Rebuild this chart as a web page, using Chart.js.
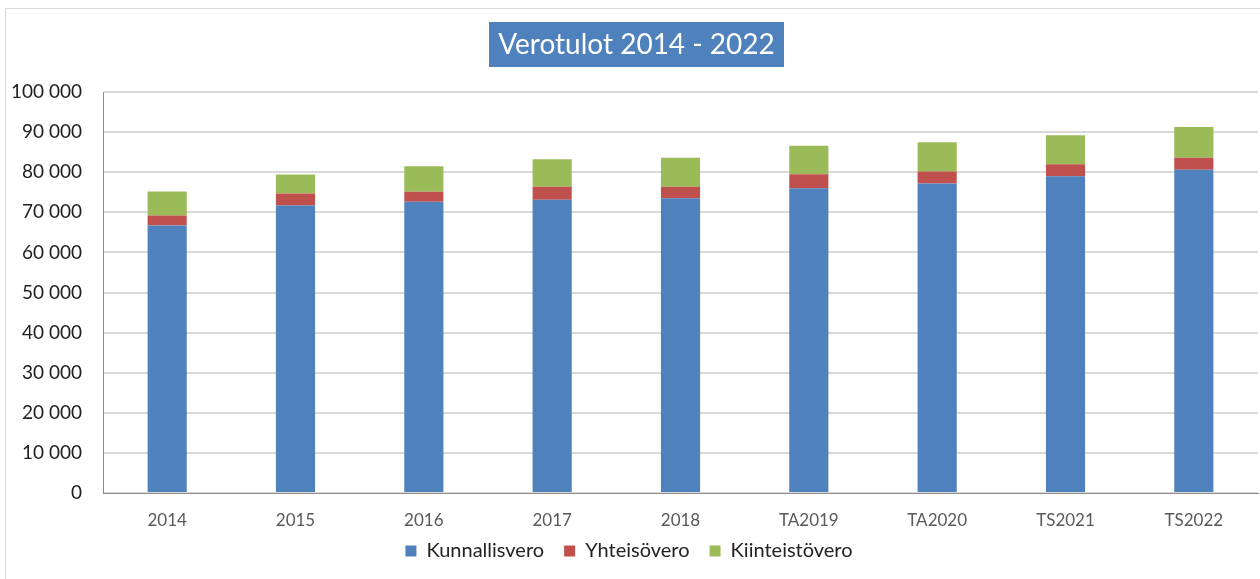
<!DOCTYPE html>
<html>
<head>
<meta charset="utf-8">
<script src="https://cdn.jsdelivr.net/npm/chart.js@4"></script>
<style>
  html, body { margin: 0; padding: 0; background: #fff; }
  #wrap { width: 1260px; height: 579px; }
</style>
</head>
<body>
<div id="wrap"><canvas id="verotulot"></canvas></div>
<script>
// Verotulot 2014 - 2022 (1000 €)
const vuodet = ['2014', '2015', '2016', '2017', '2018', 'TA2019', 'TA2020', 'TS2021', 'TS2022'];
const kunnallisvero = [66700, 71700, 72600, 73100, 73500, 76000, 77200, 79000, 80600];
const yhteisovero = [2500, 3000, 2500, 3300, 2900, 3500, 3000, 3000, 3000];
const kiinteistovero = [6000, 4700, 6400, 6800, 7200, 7100, 7300, 7200, 7700];
const yTicks = [0, 10000, 20000, 30000, 40000, 50000, 60000, 70000, 80000, 90000, 100000];

const fontName = 'Lato, "Open Sans", sans-serif';

// title box + outer frame like the Excel chart
const excelLook = {
    id: 'excelLook',
    afterLayout(chart) {
        // pull the legend a bit closer to the axis labels
        chart.legend.top -= 8;
        chart.legend.bottom -= 8;
    },
    beforeDraw(chart) {
        const ctx = chart.ctx;
        ctx.save();
        ctx.fillStyle = '#ffffff';
        ctx.fillRect(0, 0, chart.width, chart.height);
        ctx.strokeStyle = '#d9d9d9';
        ctx.lineWidth = 1;
        ctx.strokeRect(5.5, 8.5, 1262, 600);
        ctx.fillStyle = '#4f81bd';
        ctx.fillRect(489, 22, 295, 45);
        ctx.fillStyle = '#ffffff';
        ctx.font = '28px ' + fontName;
        ctx.textAlign = 'center';
        ctx.textBaseline = 'middle';
        ctx.fillText('Verotulot 2014 - 2022', 636.5, 45);
        ctx.restore();
    }
};

const ctx = document.getElementById('verotulot').getContext('2d');
new Chart(ctx, {
    type: 'bar',
    data: {
        labels: vuodet,
        datasets: [
            { label: 'Kunnallisvero', data: kunnallisvero, backgroundColor: '#4f81bd' },
            { label: 'Yhteisövero', data: yhteisovero, backgroundColor: '#c0504d' },
            { label: 'Kiinteistövero', data: kiinteistovero, backgroundColor: '#9bbb59' }
        ]
    },
    options: {
        responsive: true,
        maintainAspectRatio: false,
        animation: false,
        layout: { padding: { top: 92, left: 0, right: 2, bottom: 0 } },
        datasets: { bar: { categoryPercentage: 1, barPercentage: 0.305 } },
        plugins: {
            title: { display: false },
            tooltip: { enabled: false },
            legend: {
                position: 'bottom',
                labels: {
                    boxWidth: 11,
                    boxHeight: 11,
                    padding: 20,
                    color: '#222',
                    font: { family: fontName, size: 20 }
                }
            }
        },
        scales: {
            x: {
                stacked: true,
                afterFit(scale) { scale.height = 36; },
                grid: { display: false, drawTicks: false },
                border: { color: '#8c8c8c' },
                ticks: { color: '#595959', padding: 17, font: { family: fontName, size: 17 } }
            },
            y: {
                stacked: true,
                min: 0,
                max: 100000,
                afterFit(scale) { scale.width = 103; },
                afterBuildTicks(scale) { scale.ticks = yTicks.map(v => ({ value: v })); },
                grid: { color: '#d9d9d9', lineWidth: 2, drawTicks: false },
                border: { color: '#8c8c8c' },
                ticks: {
                    color: '#222',
                    padding: 21,
                    font: { family: fontName, size: 19 },
                    callback: v => v === 0 ? '0' : String(v).replace(/\B(?=(\d{3})+(?!\d))/g, ' ')
                }
            }
        }
    },
    plugins: [excelLook]
});
</script>
</body>
</html>
